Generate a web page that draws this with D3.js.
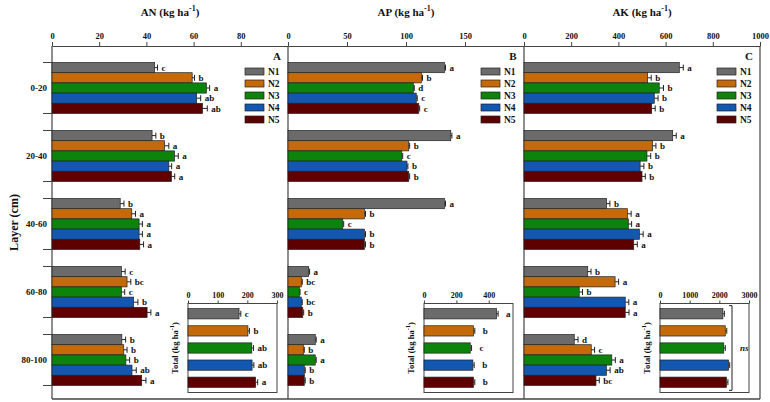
<!DOCTYPE html>
<html>
<head>
<meta charset="utf-8">
<script src="https://cdn.jsdelivr.net/npm/d3@7"></script>
<style>
  body { margin: 0; background: #fff; }
  text { font-family: "Liberation Serif", "Times New Roman", serif; font-weight: bold; fill: #111; }
</style>
</head>
<body>
<svg id="chart" width="770" height="402"></svg>
<script>
// Dados
const layers = ['0-20', '20-40', '40-60', '60-80', '80-100'];
const treatments = ['N1', 'N2', 'N3', 'N4', 'N5'];
const colors = ['#6b6b6b', '#c46a0a', '#0c840c', '#1257b0', '#5c0000'];

const anValues = [
    [43.5, 59.4, 65.4, 61.3, 63.8],
    [42.4, 47.7, 51.9, 49.5, 50.6],
    [28.9, 33.8, 36.9, 36.9, 37.2],
    [29.4, 31.8, 29.4, 34.6, 40.3],
    [29.6, 30.4, 31.3, 33.9, 38.0]
];
const anErrors = [
    [1.2, 1.0, 1.4, 1.7, 2.0],
    [1.6, 1.8, 1.6, 1.2, 1.4],
    [1.6, 1.6, 1.4, 1.4, 1.6],
    [1.6, 1.6, 1.4, 1.8, 1.6],
    [1.6, 1.4, 1.6, 1.8, 1.8]
];
const anLetters = [
    ['c', 'b', 'a', 'ab', 'ab'],
    ['b', 'a', 'a', 'a', 'a'],
    ['b', 'a', 'a', 'a', 'a'],
    ['c', 'bc', 'c', 'b', 'a'],
    ['b', 'b', 'b', 'ab', 'a']
];

const apValues = [
    [132.5, 113.0, 106.2, 108.7, 110.8],
    [137.9, 102.3, 96.4, 100.8, 102.3],
    [132.5, 64.7, 46.4, 64.7, 64.7],
    [17.5, 11.3, 9.6, 11.3, 12.5],
    [23.1, 13.0, 23.1, 13.8, 13.8]
];
const apErrors = [
    [1.0, 1.0, 0.8, 0.8, 0.8],
    [1.0, 0.8, 0.8, 0.8, 0.8],
    [1.0, 1.0, 0.8, 1.0, 1.0],
    [0.8, 0.8, 0.6, 0.8, 0.8],
    [0.8, 0.8, 0.8, 0.8, 0.8]
];
const apLetters = [
    ['a', 'b', 'd', 'c', 'c'],
    ['a', 'b', 'c', 'b', 'b'],
    ['a', 'b', 'c', 'b', 'b'],
    ['a', 'bc', 'c', 'bc', 'b'],
    ['a', 'b', 'a', 'b', 'b']
];

const akValues = [
    [658, 524, 573, 552, 541],
    [630, 545, 521, 492, 500],
    [350, 438, 442, 489, 465],
    [270, 386, 234, 429, 429],
    [213, 285, 372, 349, 305]
];
const akErrors = [
    [17, 15, 18, 16, 15],
    [15, 14, 16, 16, 14],
    [14, 16, 14, 16, 15],
    [14, 15, 14, 15, 16],
    [16, 14, 15, 16, 14]
];
const akLetters = [
    ['a', 'b', 'b', 'b', 'b'],
    ['a', 'b', 'b', 'b', 'b'],
    ['b', 'a', 'a', 'a', 'a'],
    ['b', 'a', 'b', 'a', 'a'],
    ['d', 'c', 'a', 'ab', 'bc']
];

const anTotal = [172, 202, 215, 216, 228];
const anTotalErr = [6, 5, 6, 6, 7];
const anTotalLetters = ['c', 'b', 'ab', 'ab', 'a'];
const apTotal = [448, 306, 286, 302, 306];
const apTotalErr = [10, 8, 8, 8, 8];
const apTotalLetters = ['a', 'b', 'c', 'b', 'b'];
const akTotal = [2120, 2200, 2150, 2310, 2240];
const akTotalErr = [50, 50, 50, 40, 50];

const anTicks = [0, 20, 40, 60, 80];
const apTicks = [0, 50, 100, 150];
const akTicks = [0, 200, 400, 600, 800, 1000];
const anTotalTicks = [0, 100, 200, 300];
const apTotalTicks = [0, 200, 400];
const akTotalTicks = [0, 1000, 2000, 3000];

const panels = [
    { name: 'AN', tag: 'A', max: 100, ticks: anTicks, values: anValues, errors: anErrors, letters: anLetters,
      total: anTotal, totalErr: anTotalErr, totalLetters: anTotalLetters, totalMax: 300, totalTicks: anTotalTicks, letterGap: 4 },
    { name: 'AP', tag: 'B', max: 200, ticks: apTicks, values: apValues, errors: apErrors, letters: apLetters,
      total: apTotal, totalErr: apTotalErr, totalLetters: apTotalLetters, totalMax: 550, totalTicks: apTotalTicks, letterGap: 8 },
    { name: 'AK', tag: 'C', max: 1000, ticks: akTicks, values: akValues, errors: akErrors, letters: akLetters,
      total: akTotal, totalErr: akTotalErr, totalLetters: null, totalMax: 3000, totalTicks: akTotalTicks, letterGap: 4 }
];

// Layout
const plotTop = 46, plotBottom = 399, plotLeft = 52, panelW = 236;
const lineColor = '#444';
const svg = d3.select('#chart');

const y = d3.scaleBand().domain(layers).range([54, 394]).paddingInner(0.25).paddingOuter(0.125);
const yInner = d3.scaleBand().domain(treatments).range([0, y.bandwidth()]);

function drawBars(g, x, yPos, h, value, err, letter, gap) {
    const cy = yPos + h / 2;
    g.append('rect')
        .attr('x', x(0)).attr('y', yPos)
        .attr('width', x(value) - x(0)).attr('height', h)
        .attr('stroke', '#222').attr('stroke-width', 0.7);
    g.append('line')
        .attr('x1', x(value)).attr('x2', x(value + err))
        .attr('y1', cy).attr('y2', cy)
        .attr('stroke', '#222').attr('stroke-width', 1);
    g.append('line')
        .attr('x1', x(value + err)).attr('x2', x(value + err))
        .attr('y1', cy - 3).attr('y2', cy + 3)
        .attr('stroke', '#222').attr('stroke-width', 1);
    if (letter) {
        g.append('text')
            .attr('x', x(value + err) + gap).attr('y', cy).attr('dy', '0.35em')
            .style('font-size', '9px')
            .text(letter);
    }
}

panels.forEach((p, i) => {
    const x0 = plotLeft + i * panelW, x1 = x0 + panelW;
    const x = d3.scaleLinear().domain([0, p.max]).range([x0, x1]);

    // Título
    const title = svg.append('text')
        .attr('x', (x0 + x1) / 2).attr('y', 16)
        .attr('text-anchor', 'middle')
        .style('font-size', '11px');
    title.append('tspan').text(p.name + ' (kg ha');
    title.append('tspan').attr('dy', -5).style('font-size', '8px').text('-1');
    title.append('tspan').attr('dy', 5).text(')');

    // Eixo superior
    const axis = svg.append('g')
        .attr('transform', `translate(0,${plotTop})`)
        .call(d3.axisTop(x).tickValues(p.ticks).tickFormat(d3.format('d'))
            .tickSize(4).tickSizeOuter(0).tickPadding(3));
    axis.selectAll('path, line').attr('stroke', lineColor);
    axis.selectAll('text')
        .style('font-size', '8.5px')
        .style('font-family', '"Liberation Serif", serif')
        .style('font-weight', 'bold')
        .attr('fill', '#111');

    // Bordas
    svg.append('line')
        .attr('x1', x0).attr('x2', x0).attr('y1', plotTop).attr('y2', plotBottom)
        .attr('stroke', lineColor).attr('stroke-width', 1.2);

    // Barras
    const g = svg.append('g');
    layers.forEach((layer, li) => {
        treatments.forEach((t, ti) => {
            const bg = g.append('g').attr('fill', colors[ti]);
            drawBars(bg, x, y(layer) + yInner(t), yInner.bandwidth(),
                p.values[li][ti], p.errors[li][ti], p.letters[li][ti], 4);
        });
    });

    // Legenda
    svg.append('text')
        .attr('x', x1 - 11).attr('y', 60)
        .attr('text-anchor', 'middle')
        .style('font-size', '11px')
        .text(p.tag);
    treatments.forEach((t, ti) => {
        const ly = 68 + ti * 12;
        svg.append('rect')
            .attr('x', x1 - 43).attr('y', ly)
            .attr('width', 19).attr('height', 7)
            .attr('fill', colors[ti])
            .attr('stroke', '#222').attr('stroke-width', 0.7);
        svg.append('text')
            .attr('x', x1 - 20).attr('y', ly + 3.5).attr('dy', '0.35em')
            .style('font-size', '9.5px')
            .text(t);
    });

    // Gráfico interno (total)
    const ix0 = x0 + 136, iw = 89, iy0 = 303.5, iy1 = 392.5;
    const xi = d3.scaleLinear().domain([0, p.totalMax]).range([ix0, ix0 + iw]);
    const yi = d3.scaleBand().domain(treatments).range([iy0, iy1]).paddingInner(0.4).paddingOuter(0.3);

    svg.append('rect')
        .attr('x', ix0).attr('y', iy0).attr('width', iw).attr('height', iy1 - iy0)
        .attr('fill', '#fff').attr('stroke', lineColor).attr('stroke-width', 1);
    const iaxis = svg.append('g')
        .attr('transform', `translate(0,${iy0})`)
        .call(d3.axisTop(xi).tickValues(p.totalTicks).tickFormat(d3.format('d'))
            .tickSize(3).tickSizeOuter(0).tickPadding(3));
    iaxis.select('.domain').remove();
    iaxis.selectAll('line').attr('stroke', lineColor);
    iaxis.selectAll('text')
        .style('font-size', '8px')
        .style('font-family', '"Liberation Serif", serif')
        .style('font-weight', 'bold')
        .attr('fill', '#111');

    const ig = svg.append('g');
    treatments.forEach((t, ti) => {
        const bg = ig.append('g').attr('fill', colors[ti]);
        drawBars(bg, xi, yi(t), yi.bandwidth(), p.total[ti], p.totalErr[ti],
            p.totalLetters ? p.totalLetters[ti] : null, p.letterGap);
    });

    const yl = svg.append('text')
        .attr('transform', `translate(${ix0 - 10},${(iy0 + iy1) / 2}) rotate(-90)`)
        .attr('text-anchor', 'middle')
        .style('font-size', '8.5px');
    yl.append('tspan').text('Total (kg ha');
    yl.append('tspan').attr('dy', -4).style('font-size', '6.5px').text('-1');
    yl.append('tspan').attr('dy', 4).text(')');

    if (!p.totalLetters) {
        const bx = ix0 + 72;
        const by0 = yi(treatments[0]) - 3;
        const by1 = yi(treatments[4]) + yi.bandwidth() + 3;
        svg.append('path')
            .attr('d', `M${bx - 3},${by0}H${bx}V${by1}H${bx - 3}`)
            .attr('fill', 'none').attr('stroke', '#222').attr('stroke-width', 1);
        svg.append('text')
            .attr('x', bx + 8).attr('y', (by0 + by1) / 2).attr('dy', '0.35em')
            .style('font-size', '9px').style('font-style', 'italic')
            .text('ns');
    }
});

// Borda direita e inferior
const xEnd = plotLeft + panels.length * panelW;
svg.append('line')
    .attr('x1', xEnd).attr('x2', xEnd).attr('y1', plotTop).attr('y2', plotBottom)
    .attr('stroke', lineColor).attr('stroke-width', 1.2);
svg.append('line')
    .attr('x1', plotLeft).attr('x2', xEnd).attr('y1', plotBottom).attr('y2', plotBottom)
    .attr('stroke', lineColor).attr('stroke-width', 1.5);

// Eixo das camadas
layers.forEach(layer => {
    [y(layer), y(layer) + y.bandwidth()].forEach(edge => {
        svg.append('line')
            .attr('x1', plotLeft - 9).attr('x2', plotLeft).attr('y1', edge).attr('y2', edge)
            .attr('stroke', lineColor).attr('stroke-width', 1);
    });
    svg.append('text')
        .attr('x', plotLeft - 5).attr('y', y(layer) + y.bandwidth() / 2).attr('dy', '0.35em')
        .attr('text-anchor', 'end')
        .style('font-size', '9px')
        .text(layer);
});

svg.append('text')
    .attr('transform', `translate(14,${(plotTop + plotBottom) / 2}) rotate(-90)`)
    .attr('text-anchor', 'middle')
    .attr('dy', '0.35em')
    .style('font-size', '12px')
    .text('Layer (cm)');
</script>
</body>
</html>
